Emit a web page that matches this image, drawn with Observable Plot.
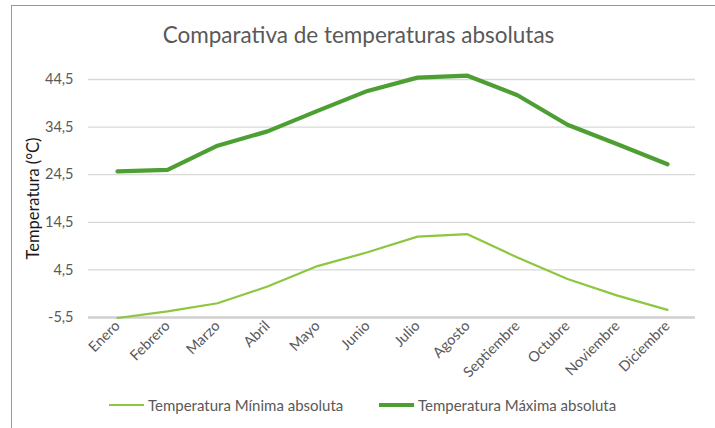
<!DOCTYPE html>
<html>
<head>
<meta charset="utf-8">
<script src="https://cdn.jsdelivr.net/npm/d3@7"></script>
<script src="https://cdn.jsdelivr.net/npm/@observablehq/plot@0.6"></script>
<style>
  body { margin: 0; background: #fff; font-family: Lato, "Open Sans", sans-serif; }
  #wrap { position: relative; width: 715px; height: 428px; overflow: hidden; }
  #frame { position: absolute; left: 11px; top: 5px; width: 720px; height: 440px;
           border-top: 1px solid #999; border-left: 1px solid #999; }
  #title { position: absolute; width: 715px; top: 21px; text-align: center;
           font-size: 22.5px; color: #595959; left: 1px; }
  #chart { position: absolute; left: 0; top: 0; }
  #chart svg text { font-size: 14.5px; font-family: Lato, "Open Sans", sans-serif; }
  #chart svg text.ylab { font-size: 16.5px; fill: #1a1a1a; }
  #legend { position: absolute; top: 396px; left: 0; font-size: 15px; color: #595959; }
  .item { position: absolute; white-space: nowrap; display: flex; align-items: center; }
  .sw { display: inline-block; width: 35px; margin-right: 4px; }
</style>
</head>
<body>
<div id="wrap">
  <div id="frame"></div>
  <div id="chart"></div>
  <div id="title">Comparativa de temperaturas absolutas</div>
  <div id="legend"></div>
</div>
<script>
const months = ["Enero","Febrero","Marzo","Abril","Mayo","Junio","Julio","Agosto","Septiembre","Octubre","Noviembre","Diciembre"];
const tempMin = [-5.6, -4.2, -2.5, 1.0, 5.3, 8.2, 11.5, 12.0, 7.1, 2.6, -0.9, -3.9];
const tempMax = [25.2, 25.5, 30.6, 33.6, 37.9, 42.1, 44.9, 45.3, 41.2, 35.0, 30.9, 26.7];
const yTicks = [-5.5, 4.5, 14.5, 24.5, 34.5, 44.5];
const seriesNames = ["Temperatura Mínima absoluta", "Temperatura Máxima absoluta"];
const seriesColors = ["#8DC63F", "#4E9F33"];
const seriesWidths = [2.2, 4.2];

const rows = [];
months.forEach((m, i) => {
  rows.push({month: m, value: tempMin[i], serie: seriesNames[0]});
  rows.push({month: m, value: tempMax[i], serie: seriesNames[1]});
});

const fmt = d => String(d).replace(".", ",");

const plot = Plot.plot({
  width: 715,
  height: 428,
  marginLeft: 88,
  marginRight: 20,
  marginTop: 79,
  marginBottom: 111,
  style: {fontFamily: "Lato, 'Open Sans', sans-serif", fontSize: "14px", color: "#595959", background: "transparent"},
  x: {type: "point", domain: months, padding: 0.5},
  y: {domain: [-5.5, 44.5]},
  marks: [
    Plot.ruleY(yTicks.slice(1), {stroke: "#d9d9d9", strokeWidth: 1.3}),
    Plot.ruleY([yTicks[0]], {stroke: "#d0d0d0", strokeWidth: 2.5}),
    Plot.axisY({ticks: yTicks, tickFormat: fmt, tickSize: 0, tickPadding: 15, fontSize: 14,
      label: "Temperatura (°C)", labelAnchor: "center", labelOffset: 61, labelArrow: "none"}),
    Plot.axisX({tickSize: 0, tickRotate: -45, tickPadding: 6, fontSize: 14, label: null}),
    Plot.line(rows.filter(d => d.serie === seriesNames[0]), {x: "month", y: "value", stroke: seriesColors[0], strokeWidth: seriesWidths[0]}),
    Plot.line(rows.filter(d => d.serie === seriesNames[1]), {x: "month", y: "value", stroke: seriesColors[1], strokeWidth: seriesWidths[1]})
  ]
});
document.getElementById("chart").appendChild(plot);

plot.querySelectorAll("text").forEach(t => {
  if (t.textContent.startsWith("Temperatura")) t.classList.add("ylab");
});

const legend = document.getElementById("legend");
const lx = [109, 379];
seriesNames.forEach((n, i) => {
  const it = document.createElement("div");
  it.className = "item";
  it.style.left = lx[i] + "px";
  it.innerHTML = `<span class="sw" style="height:${i ? 4 : 2.2}px;background:${seriesColors[i]}"></span>${n}`;
  legend.appendChild(it);
});
</script>
</body>
</html>
